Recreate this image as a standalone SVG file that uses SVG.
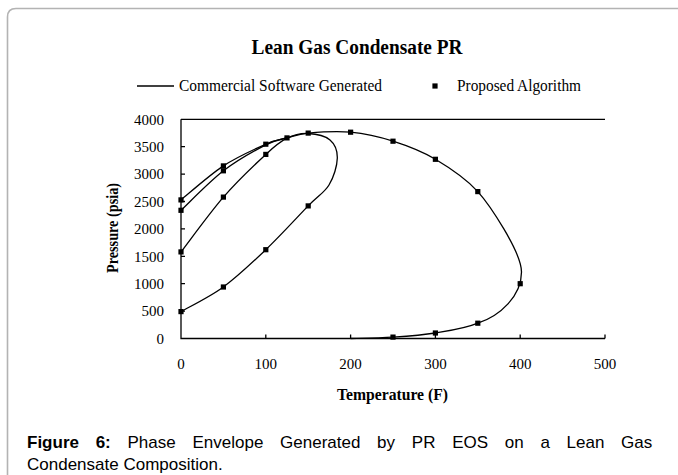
<svg xmlns="http://www.w3.org/2000/svg" width="678" height="475" viewBox="0 0 678 475">
<style>
.serif{font-family:"Liberation Serif","Times New Roman",serif;fill:#000}
.sans{font-family:"Liberation Sans",Arial,sans-serif;fill:#000}
.tick{font-size:15px}
.ax{stroke:#000;stroke-width:1.3;fill:none}
.crv{stroke:#000;stroke-width:1.3;fill:none}
</style>
<defs>
<rect id="m" x="-2.6" y="-2.6" width="5.2" height="5.2" fill="#000"/>
</defs>
<rect width="678" height="475" fill="#fff"/>
<path d="M7.5,475 V17 Q7.5,8.5 16,8.5 H678" fill="none" stroke="#b3b3b3" stroke-width="1.6"/>
<g id="title">
<text class="serif" x="357" y="54" font-size="20" font-weight="bold" text-anchor="middle" textLength="211" lengthAdjust="spacingAndGlyphs">Lean Gas Condensate PR</text>
</g>
<g id="legend">
<line x1="137" y1="86" x2="174" y2="86" stroke="#000" stroke-width="1.5"/>
<text class="serif" x="179" y="91" font-size="16" textLength="203" lengthAdjust="spacingAndGlyphs">Commercial Software Generated</text>
<use href="#m" x="435" y="86"/>
<text class="serif" x="457" y="91" font-size="16" textLength="124" lengthAdjust="spacingAndGlyphs">Proposed Algorithm</text>
</g>
<g id="axes">
<path class="ax" d="M181,119.3 H605 M181,119.3 V338.5 H605"/>
<path class="ax" d="M181,146.7 h4 M181,174.1 h4 M181,201.5 h4 M181,228.9 h4 M181,256.3 h4 M181,283.7 h4 M181,311.1 h4 M265.8,338.5 v-4 M350.6,338.5 v-4 M435.4,338.5 v-4 M520.2,338.5 v-4 M605,338.5 v-4"/>
<g class="serif tick" text-anchor="end">
<text x="164" y="124.5">4000</text>
<text x="164" y="151.9">3500</text>
<text x="164" y="179.3">3000</text>
<text x="164" y="206.7">2500</text>
<text x="164" y="234.1">2000</text>
<text x="164" y="261.5">1500</text>
<text x="164" y="288.9">1000</text>
<text x="164" y="316.3">500</text>
<text x="164" y="343.7">0</text>
</g>
<g class="serif tick" text-anchor="middle">
<text x="181" y="369">0</text>
<text x="265.8" y="369">100</text>
<text x="350.6" y="369">200</text>
<text x="435.4" y="369">300</text>
<text x="520.2" y="369">400</text>
<text x="605" y="369">500</text>
</g>
<text class="serif" x="392.5" y="400" font-size="16" font-weight="bold" text-anchor="middle" textLength="111" lengthAdjust="spacingAndGlyphs">Temperature (F)</text>
<text class="serif" transform="translate(118,228) rotate(-90)" x="0" y="0" font-size="16" font-weight="bold" text-anchor="middle" textLength="90" lengthAdjust="spacingAndGlyphs">Pressure (psia)</text>
</g>
<g id="connectors">
<path class="crv" d="M181,199.9 C188.1,194.2 209.3,175.2 223.4,165.9 C237.5,156.6 255.2,148.9 265.8,144.2 C276.4,139.5 279.9,139.8 287,137.9 C294.1,136.05 297.6,134.05 308.2,133.1 C318.8,132.15 336.5,130.85 350.6,132.2 C364.7,133.55 378.9,136.7 393,141.2 C407.1,145.7 421.3,150.9 435.4,159.3 C449.5,167.7 466.2,178.8 477.8,191.6 C489,204 521.5,252 521.5,272 C521.5,296 500,316 477.8,323.2 C464.8,328.7 449.5,330.7 435.4,333 C421.3,335.3 407.1,336.2 393,337.1 C378.9,338 357.7,338.3 350.6,338.5"/>
<path class="crv" d="M181,210.3 C188.1,203.7 209.3,181.7 223.4,170.8 C237.5,159.9 255.2,150.3 265.8,144.8 C276.4,139.3 283.5,139.05 287,137.9"/>
<path class="crv" d="M181,251.9 C188.1,242.8 209.3,213.35 223.4,197.1 C237.5,180.85 255.2,164.2 265.8,154.4 C276.4,144.6 279.9,141.7 287,138.2 C294.1,134.7 301,133.2 308.2,133.5 C315.4,133.8 325.15,135.9 330,140 C334.85,144.1 337.5,150.8 337.3,158.3 C337.1,165.8 333.85,177.1 329,185 C324.15,192.9 318.7,195.1 308.2,205.9 C297.7,216.7 279.9,236.2 265.8,249.7 C251.7,263.2 237.5,276.7 223.4,287 C209.3,297.3 188.1,307.5 181,311.6"/>
</g>
<g id="markers">
<use href="#m" x="181" y="199.9"/><use href="#m" x="223.4" y="165.9"/><use href="#m" x="265.8" y="144.2"/><use href="#m" x="287" y="137.9"/><use href="#m" x="308.2" y="133.1"/><use href="#m" x="350.6" y="132.2"/><use href="#m" x="393" y="141.2"/><use href="#m" x="435.4" y="159.3"/><use href="#m" x="477.8" y="191.6"/><use href="#m" x="520.2" y="283.7"/><use href="#m" x="477.8" y="323.2"/><use href="#m" x="435.4" y="333"/><use href="#m" x="393" y="337.1"/>
<use href="#m" x="181" y="210.3"/><use href="#m" x="223.4" y="170.8"/>
<use href="#m" x="181" y="251.9"/><use href="#m" x="223.4" y="197.1"/><use href="#m" x="265.8" y="154.4"/><use href="#m" x="308.2" y="205.9"/><use href="#m" x="265.8" y="249.7"/><use href="#m" x="223.4" y="287"/><use href="#m" x="181" y="311.6"/>
</g>
<g id="caption">
<text class="sans" x="27" y="448" font-size="17" word-spacing="12"><tspan font-weight="bold">Figure 6:</tspan> Phase Envelope Generated by PR EOS on a Lean Gas</text>
<text class="sans" x="27" y="470" font-size="17">Condensate Composition.</text>
</g>
</svg>
